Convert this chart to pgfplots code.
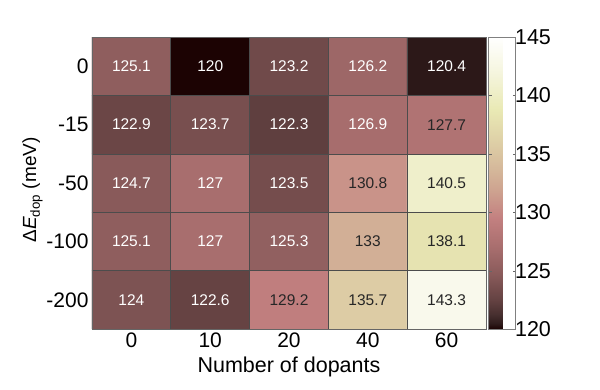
\documentclass[border=0pt]{standalone}
\usepackage{pgfplots}
\usepackage{pgfplotstable}
\pgfplotsset{compat=1.18}
\usepackage{fontspec}
\setmainfont{Liberation Sans}
\pgfplotstableread{
x y c
0 0 124
1 0 122.6
2 0 129.2
3 0 135.7
4 0 143.3
0 1 125.1
1 1 127
2 1 125.3
3 1 133
4 1 138.1
0 2 124.7
1 2 127
2 2 123.5
3 2 130.8
4 2 140.5
0 3 122.9
1 3 123.7
2 3 122.3
3 3 126.9
4 3 127.7
0 4 125.1
1 4 120
2 4 123.2
3 4 126.2
4 4 120.4
}\datatable
\pgfplotstableread{
x y c
0 0 124
1 0 122.6
0 1 125.1
1 1 127
2 1 125.3
0 2 124.7
1 2 127
2 2 123.5
0 3 122.9
1 3 123.7
2 3 122.3
3 3 126.9
0 4 125.1
1 4 120
2 4 123.2
3 4 126.2
4 4 120.4
}\whitelabels
\pgfplotstableread{
x y c
2 0 129.2
3 0 135.7
4 0 143.3
3 1 133
4 1 138.1
3 2 130.8
4 2 140.5
4 3 127.7
}\blacklabels
\begin{document}
\begin{tikzpicture}
\begin{axis}[
  name=ax,
  width=394pt, height=292pt, scale only axis,
  xmin=-0.5, xmax=4.5, ymin=-0.5, ymax=4.5,
  xtick={0,1,2,3,4}, xticklabels={0,10,20,40,60},
  ytick={0,1,2,3,4}, yticklabels={-200,-100,-50,-15,0},
  minor xtick={0.5,1.5,2.5,3.5}, minor ytick={0.5,1.5,2.5,3.5},
  xminorgrids, yminorgrids,
  minor grid style={draw=black!70, line width=0.6pt},
  major tick length=0pt, minor tick length=0pt,
  tick label style={font=\fontsize{21}{24}\selectfont},
  xlabel={Number of dopants},
  ylabel={Δ\textit{E}\textsubscript{dop} (meV)},
  xlabel style={yshift=-3pt, font=\fontsize{21.5}{24}\selectfont},
  ylabel style={at={(ticklabel cs:0.476)}, yshift=-3pt, font=\fontsize{19}{22}\selectfont},
  axis on top,
  axis line style={draw=black!60, line width=0.6pt},
  colormap={mpink}{rgb255(0)=(28,3,3) rgb255(2)=(48,29,29) rgb255(5)=(71,47,47) rgb255(10)=(100,66,66) rgb255(19)=(138,91,91) rgb255(28)=(168,110,110) rgb255(38)=(195,128,128) rgb255(47)=(205,161,143) rgb255(56)=(214,187,156) rgb255(66)=(224,212,169) rgb255(75)=(233,233,180) rgb255(88)=(245,245,222) rgb255(100)=(255,255,255)},
  point meta min=120, point meta max=145,
  colorbar,
  colorbar style={
    at={(parent axis.north east)}, anchor=north west, xshift=-6pt,
    width=27pt, height=292pt, scale only axis,
    ytick={120,125,130,135,140,145},
    yticklabel style={font=\fontsize{21.5}{24}\selectfont, /pgf/number format/assume math mode=true, xshift=-4pt},
    axis line style={draw=black!50, line width=0.6pt},
    major tick length=3pt, tick align=inside,
    ytick style={draw=black!60},
  },
]
\addplot[matrix plot*, mesh/cols=5, point meta=explicit] table[x=x, y=y, meta=c] {\datatable};
\addplot[only marks, mark=none, point meta=explicit symbolic,
  nodes near coords, nodes near coords style={anchor=center, text=white, font=\fontsize{15.5}{18}\selectfont}]
  table[x=x, y=y, meta=c] {\whitelabels};
\addplot[only marks, mark=none, point meta=explicit symbolic,
  nodes near coords, nodes near coords style={anchor=center, text=black!85, font=\fontsize{15.5}{18}\selectfont}]
  table[x=x, y=y, meta=c] {\blacklabels};
\end{axis}
\path (ax.south west) +(-92pt,-60pt) (ax.north east) +(114pt,37pt);
\end{tikzpicture}
\end{document}
